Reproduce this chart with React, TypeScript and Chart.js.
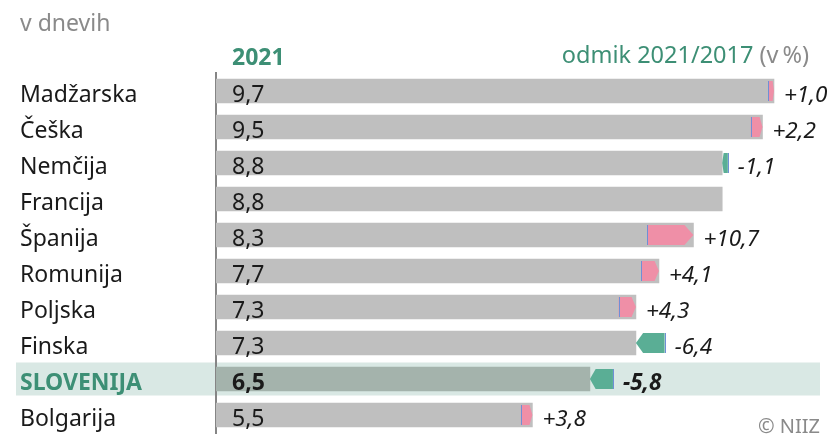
import React, { useEffect, useRef } from "react";
import { Chart, registerables } from "chart.js";

Chart.register(...registerables);

const countries = ["Madžarska", "Češka", "Nemčija", "Francija", "Španija", "Romunija", "Poljska", "Finska", "SLOVENIJA", "Bolgarija"];
const values2021 = [9.7, 9.5, 8.8, 8.8, 8.3, 7.7, 7.3, 7.3, 6.5, 5.5];
const valueLabels = ["9,7", "9,5", "8,8", "8,8", "8,3", "7,7", "7,3", "7,3", "6,5", "5,5"];
const changePct = [1.0, 2.2, -1.1, 0, 10.7, 4.1, 4.3, -6.4, -5.8, 3.8];
const changeLabels = ["+1,0", "+2,2", "-1,1", "", "+10,7", "+4,1", "+4,3", "-6,4", "-5,8", "+3,8"];
const highlightIndex = 8;

const FONT = "'Noto Sans', 'Open Sans', sans-serif";
const GREEN_TEXT = "#3d8f75";
const GRAY_TEXT = "#8a8a8a";

const overlay = {
  id: "overlay",
  beforeDraw(chart: any) {
    const { ctx } = chart;
    const ys = chart.scales.y;
    const yc = ys.getPixelForValue(highlightIndex);
    ctx.save();
    ctx.fillStyle = "#d9e8e4";
    ctx.fillRect(16, yc - 16.5, 804, 33);
    ctx.restore();
  },
  afterDatasetsDraw(chart: any) {
    const { ctx } = chart;
    const xs = chart.scales.x;
    const ys = chart.scales.y;
    ctx.save();
    ctx.textBaseline = "alphabetic";
    ctx.textAlign = "left";
    values2021.forEach((v21, i) => {
      const yc = ys.getPixelForValue(i);
      const bold = i === highlightIndex;
      ctx.fillStyle = "#1a1a1a";
      ctx.font = `${bold ? "bold " : ""}23px ${FONT}`;
      ctx.fillText(valueLabels[i], xs.getPixelForValue(0) + 16, yc + 11);

      const pct = changePct[i];
      if (pct === 0) return;
      const v17 = v21 / (1 + pct / 100);
      const x17 = xs.getPixelForValue(v17);
      const x21 = xs.getPixelForValue(v21);
      const h = 10;
      const len = Math.abs(x21 - x17);
      const head = Math.min(9, len * 0.25);
      ctx.beginPath();
      if (pct > 0) {
        ctx.fillStyle = "#ef8fa7";
        ctx.moveTo(x17, yc - h);
        ctx.lineTo(x21 - head, yc - h);
        ctx.lineTo(x21, yc);
        ctx.lineTo(x21 - head, yc + h);
        ctx.lineTo(x17, yc + h);
      } else {
        ctx.fillStyle = "#5aae95";
        ctx.moveTo(x17, yc - h);
        ctx.lineTo(x21 + head, yc - h);
        ctx.lineTo(x21, yc);
        ctx.lineTo(x21 + head, yc + h);
        ctx.lineTo(x17, yc + h);
      }
      ctx.closePath();
      ctx.fill();
      ctx.strokeStyle = "#6f8fd6";
      ctx.lineWidth = 1;
      ctx.beginPath();
      ctx.moveTo(Math.round(x17) + 0.5, yc - h);
      ctx.lineTo(Math.round(x17) + 0.5, yc + h);
      ctx.stroke();

      ctx.fillStyle = "#1a1a1a";
      ctx.font = `italic ${bold ? "bold " : ""}22.5px ${FONT}`;
      ctx.fillText(changeLabels[i], Math.max(x17, x21) + 10, yc + 11);
    });

    // header texts
    ctx.fillStyle = GRAY_TEXT;
    ctx.font = `23px ${FONT}`;
    ctx.fillText("v dnevih", 20, 31);

    ctx.fillStyle = GREEN_TEXT;
    ctx.font = `bold 23px ${FONT}`;
    ctx.fillText("2021", 232, 65);

    ctx.font = `23.5px ${FONT}`;
    ctx.textAlign = "right";
    ctx.fillStyle = GRAY_TEXT;
    const tail = "(v\u2009%)";
    ctx.fillText(tail, 809, 63);
    const tw = ctx.measureText(tail).width;
    ctx.fillStyle = GREEN_TEXT;
    ctx.fillText("odmik 2021/2017 ", 809 - tw, 63);

    ctx.fillStyle = GRAY_TEXT;
    ctx.font = `20px ${FONT}`;
    ctx.fillText("© NIIZ", 820, 433);
    ctx.restore();
  },
};

export default function App() {
  const ref = useRef<HTMLCanvasElement | null>(null);
  useEffect(() => {
    if (!ref.current) return;
    const chart = new Chart(ref.current, {
      type: "bar",
      data: {
        labels: countries,
        datasets: [
          {
            data: values2021,
            backgroundColor: values2021.map((_, i) => (i === highlightIndex ? "#a4b3ac" : "#bfbfbf")),
            barThickness: 24,
          },
        ],
      },
      options: {
        indexAxis: "y",
        responsive: false,
        animation: false,
        layout: { padding: { left: 20, top: 73, right: 16, bottom: 1 } },
        plugins: { legend: { display: false }, tooltip: { enabled: false } },
        scales: {
          x: { display: false, min: 0, max: 10.5 },
          y: {
            grid: { display: false, drawTicks: false },
            border: { display: true, color: "#858585", width: 2 },
            afterFit: (scale: any) => {
              scale.width = 196;
              scale.paddingTop = 0;
              scale.paddingBottom = 0;
            },
            ticks: {
              crossAlign: "far",
              padding: 0,
              labelOffset: 4,
              color: (c: any) => (c.index === highlightIndex ? GREEN_TEXT : "#1a1a1a"),
              font: (c: any) =>
                c.index === highlightIndex
                  ? { family: FONT, size: 23, weight: "bold" }
                  : { family: FONT, size: 23 },
            },
          },
        },
      },
      plugins: [overlay],
    });
    return () => chart.destroy();
  }, []);
  return (
    <div style={{ position: "fixed", left: 0, top: 0, width: 836, height: 434, background: "#fff" }}>
      <canvas ref={ref} width={836} height={434} style={{ display: "block" }} />
    </div>
  );
}
